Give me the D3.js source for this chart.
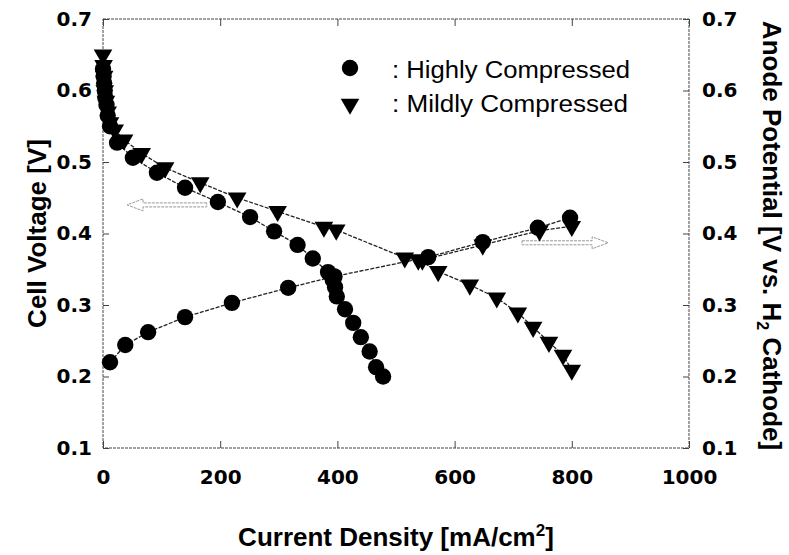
<!DOCTYPE html>
<html>
<head>
<meta charset="utf-8">
<script src="https://cdn.jsdelivr.net/npm/d3@7/dist/d3.min.js"></script>
<style>
  html, body { margin: 0; padding: 0; background: #fff; }
  svg { display: block; }
</style>
</head>
<body>
<svg id="chart" width="789" height="555"></svg>
<script>
// ---------------- data ----------------
const xTicks = [0, 200, 400, 600, 800, 1000];
const yTicks = [0.1, 0.2, 0.3, 0.4, 0.5, 0.6, 0.7];

// Highly compressed – cell voltage (circles, falling)
const highCellX = [0, 1, 2, 3, 4, 6, 8, 12, 24, 51, 92, 140, 196, 251, 292, 332, 358, 384, 392, 396, 399, 413, 427, 440, 455, 466, 478];
const highCellY = [0.63, 0.62, 0.61, 0.60, 0.59, 0.58, 0.565, 0.55, 0.527, 0.506, 0.485, 0.464, 0.444, 0.423, 0.403, 0.384, 0.365, 0.346, 0.335, 0.325, 0.312, 0.294, 0.275, 0.255, 0.235, 0.213, 0.200];

// Mildly compressed – cell voltage (triangles, falling)
const mildCellX = [0, 1, 2, 3, 5, 8, 12, 20, 36, 66, 106, 166, 229, 298, 377, 398, 515, 538, 572, 626, 672, 708, 734, 761, 785, 800];
const mildCellY = [0.65, 0.635, 0.62, 0.60, 0.585, 0.57, 0.555, 0.545, 0.531, 0.512, 0.492, 0.471, 0.450, 0.431, 0.409, 0.405, 0.366, 0.363, 0.347, 0.328, 0.310, 0.289, 0.269, 0.248, 0.230, 0.209];

// Highly compressed – anode potential (circles, rising)
const highAnodeX = [12, 38, 77, 140, 220, 316, 395, 555, 648, 742, 797];
const highAnodeY = [0.220, 0.244, 0.262, 0.283, 0.303, 0.324, 0.340, 0.367, 0.388, 0.408, 0.422];

// Mildly compressed – anode potential (triangles, rising)
const mildAnodeX = [545, 648, 745, 800];
const mildAnodeY = [0.363, 0.384, 0.404, 0.410];

// direction arrows (data coords): [x tail, x head, y]
const arrowLeft = [177, 41, 0.44];
const arrowRight = [715, 862, 0.387];

const legendLabels = [": Highly Compressed", ": Mildly Compressed"];

// ---------------- layout ----------------
const svg = d3.select("#chart");
const L = 103, R = 689, T = 19, B = 448;
const x = d3.scaleLinear().domain([0, 1000]).range([L, R]);
const y = d3.scaleLinear().domain([0.1, 0.7]).range([B, T]);

const frameColor = "#444";
const tickFont = "'DejaVu Sans', sans-serif";
const titleFont = "'Liberation Sans', Arial, sans-serif";

// axes
function styleAxis(g) {
  g.select(".domain").remove();
  g.selectAll(".tick line").attr("stroke", frameColor).attr("stroke-width", 1);
  g.selectAll(".tick text")
    .attr("fill", "#000")
    .attr("font-family", tickFont)
    .attr("font-weight", "bold")
    .attr("font-size", 20);
}

svg.append("g").attr("transform", `translate(0,${B})`)
  .call(d3.axisBottom(x).tickValues(xTicks).tickSize(-7).tickPadding(22).tickFormat(d3.format("d")))
  .call(styleAxis);
svg.append("g").attr("transform", `translate(0,${T})`)
  .call(d3.axisTop(x).tickValues(xTicks).tickSize(-7).tickFormat(""))
  .call(styleAxis);
svg.append("g").attr("transform", `translate(${L},0)`)
  .call(d3.axisLeft(y).tickValues(yTicks).tickSize(-6).tickPadding(11).tickFormat(d3.format(".1f")))
  .call(styleAxis);
svg.append("g").attr("transform", `translate(${R},0)`)
  .call(d3.axisRight(y).tickValues(yTicks).tickSize(-6).tickPadding(13).tickFormat(d3.format(".1f")))
  .call(styleAxis);

// frame
svg.append("rect")
  .attr("x", L).attr("y", T).attr("width", R - L).attr("height", B - T)
  .attr("fill", "none").attr("stroke", frameColor).attr("stroke-width", 1)
  .attr("stroke-dasharray", "3,1");

// arrows (hollow, light grey)
function drawArrow(a) {
  const x0 = x(a[0]), x1 = x(a[1]), yy = y(a[2]);
  const dir = Math.sign(x1 - x0);
  const headLen = 16, shaftH = 2, headH = 6;
  const xb = x1 - dir * headLen;
  const pts = [[x0, yy - shaftH], [xb, yy - shaftH], [xb, yy - headH], [x1, yy], [xb, yy + headH], [xb, yy + shaftH], [x0, yy + shaftH]];
  svg.append("path")
    .attr("d", d3.line()(pts) + "Z")
    .attr("fill", "none").attr("stroke", "#9a9a9a").attr("stroke-width", 1)
    .attr("stroke-dasharray", "3,1");
}
drawArrow(arrowLeft);
drawArrow(arrowRight);

// series
const zip = (xs, ys) => xs.map((v, i) => [v, ys[i]]);
const line = d3.line().x(d => x(d[0])).y(d => y(d[1]));
const series = [
  { pts: zip(highCellX, highCellY), shape: "circle" },
  { pts: zip(mildCellX, mildCellY), shape: "triangle" },
  { pts: zip(highAnodeX, highAnodeY), shape: "circle" },
  { pts: zip(mildAnodeX, mildAnodeY), shape: "triangle" }
];
const circleSym = d3.symbol(d3.symbolCircle, 210);
const triSym = d3.symbol(d3.symbolTriangle, 150);

series.forEach(s => {
  svg.append("path").datum(s.pts)
    .attr("d", line)
    .attr("fill", "none").attr("stroke", "#222").attr("stroke-width", 1.3)
    .attr("stroke-dasharray", "4,1.5");
});
series.forEach(s => {
  svg.append("g").selectAll("path").data(s.pts).join("path")
    .attr("d", s.shape === "circle" ? circleSym : triSym)
    .attr("transform", d => `translate(${x(d[0])},${y(d[1])})` + (s.shape === "triangle" ? " rotate(180)" : ""))
    .attr("fill", "#000");
});

// legend
svg.append("path").attr("d", circleSym).attr("transform", "translate(350,68)").attr("fill", "#000");
svg.append("path").attr("d", triSym).attr("transform", "translate(350,104) rotate(180)").attr("fill", "#000");
svg.append("text").attr("x", 392).attr("y", 78).text(legendLabels[0])
  .attr("font-family", titleFont).attr("font-size", 23)
  .attr("textLength", 238).attr("lengthAdjust", "spacingAndGlyphs");
svg.append("text").attr("x", 392).attr("y", 112).text(legendLabels[1])
  .attr("font-family", titleFont).attr("font-size", 23)
  .attr("textLength", 236).attr("lengthAdjust", "spacingAndGlyphs");

// axis titles
const xt = svg.append("text")
  .attr("x", (L + R) / 2).attr("y", 546).attr("text-anchor", "middle")
  .attr("font-family", titleFont).attr("font-weight", "bold").attr("font-size", 26);
xt.append("tspan").text("Current Density [mA/cm");
xt.append("tspan").text("2").attr("font-size", 17).attr("dy", -10);
xt.append("tspan").text("]").attr("dy", 10);

svg.append("text")
  .attr("transform", `translate(46,${(T + B) / 2}) rotate(-90)`)
  .attr("text-anchor", "middle")
  .attr("font-family", titleFont).attr("font-weight", "bold").attr("font-size", 26)
  .text("Cell Voltage [V]");

const rt = svg.append("text")
  .attr("transform", `translate(763,${(T + B) / 2 + 2}) rotate(90)`)
  .attr("text-anchor", "middle")
  .attr("font-family", titleFont).attr("font-weight", "bold").attr("font-size", 26);
rt.append("tspan").text("Anode Potential [V vs. H");
rt.append("tspan").text("2").attr("font-size", 16).attr("dy", 6);
rt.append("tspan").text(" Cathode]").attr("dy", -6);
</script>
</body>
</html>
